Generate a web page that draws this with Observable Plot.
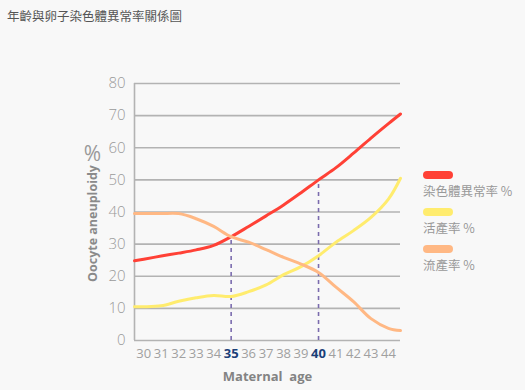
<!DOCTYPE html>
<html>
<head>
<meta charset="utf-8">
<script src="https://cdn.jsdelivr.net/npm/d3@7"></script>
<script src="https://cdn.jsdelivr.net/npm/@observablehq/plot@0.6"></script>
<style>
  html, body { margin: 0; padding: 0; background: #f8f8f8; }
  #wrap { position: relative; width: 525px; height: 390px; overflow: hidden; font-family: "Noto Sans CJK TC", "Open Sans", sans-serif; }
  #title { position: absolute; left: 7px; top: 6px; font-size: 12.5px; color: #555; font-family: "Noto Sans CJK TC", sans-serif; }
  #legend { position: absolute; left: 423px; top: 171px; font-family: "Noto Sans CJK TC", sans-serif; }
  .item { height: 37px; }
  .sw { width: 30px; height: 8px; border-radius: 4px; }
  .lab { font-size: 12.5px; color: #999; margin-top: 4px; line-height: 16px; white-space: nowrap; }
  #chart { position: absolute; left: 0; top: 0; }
</style>
</head>
<body>
<div id="wrap">
  <div id="chart"></div>
  <div id="title"></div>
  <div id="legend"></div>
</div>
<script>
const title = "年齡與卵子染色體異常率關係圖";
const ages = [29.47, 30, 31, 32, 33, 34, 35, 36, 37, 38, 39, 40, 41, 42, 43, 44, 44.69];
const aneuploidy = [24.8, 25.3, 26.3, 27.2, 28.2, 29.6, 32.3, 35.5, 38.8, 42.2, 46, 50, 53.8, 58.3, 63, 67.5, 70.5];
const liveBirth = [10.5, 10.5, 10.8, 12.2, 13.3, 14, 13.7, 15.2, 17.3, 20.5, 23, 26.4, 30.6, 34.2, 38.3, 44, 50.5];
const miscarriage = [39.5, 39.5, 39.5, 39.5, 37.9, 35.5, 32.3, 30.6, 28.3, 25.9, 23.8, 21.2, 16.6, 12.1, 6.8, 3.8, 3.1];
const seriesNames = ["染色體異常率 %", "活產率  %", "流產率 %"];
const seriesColors = ["#ff4136", "#ffec6e", "#ffb884"];
const xTicks = [30, 31, 32, 33, 34, 35, 36, 37, 38, 39, 40, 41, 42, 43, 44];
const markedAges = [35, 40];
const yTicks = [0, 10, 20, 30, 40, 50, 60, 70, 80];
const xLabel = "Maternal  age";
const yLabel = "Oocyte aneuploidy";
const yUnit = "%";

const rows = [];
[aneuploidy, liveBirth, miscarriage].forEach((vals, i) => {
  vals.forEach((v, j) => rows.push({age: ages[j], value: v, series: seriesNames[i]}));
});
const markRows = markedAges.map(a => ({age: a, value: aneuploidy[ages.indexOf(a)]}));

const chart = Plot.plot({
  width: 525,
  height: 390,
  marginLeft: 134,
  marginRight: 125,
  marginTop: 83,
  marginBottom: 50,
  style: {background: "transparent", fontFamily: "'Open Sans', sans-serif"},
  x: {domain: [ages[0], ages[ages.length - 1]]},
  y: {domain: [0, 80]},
  color: {domain: seriesNames, range: seriesColors},
  marks: [
    Plot.ruleY(yTicks.filter(d => d > 0), {stroke: "#b3b3b3", strokeWidth: 1.6}),
    Plot.ruleX([ages[0]], {stroke: "#b3b3b3", strokeWidth: 1.6}),
    Plot.ruleY([0], {stroke: "#b3b3b3", strokeWidth: 1.6}),
    Plot.ruleX(markRows, {x: "age", y1: 0, y2: "value", stroke: "#7b6cae", strokeWidth: 1.6, strokeDasharray: "4,4"}),
    Plot.line(rows, {x: "age", y: "value", z: "series", stroke: "series", strokeWidth: 3, curve: "catmull-rom"}),
    Plot.axisY(yTicks, {tickSize: 0, tickPadding: 9, fontSize: 15, fill: "#9a9a9a", label: null, fontWeight: 300}),
    Plot.axisX(xTicks.filter(d => !markedAges.includes(d)), {tickSize: 0, tickPadding: 8, fontSize: 13, fill: "#a0a0a0", label: null}),
    Plot.axisX(markedAges, {tickSize: 0, tickPadding: 8, fontSize: 13, fill: "#1b3f78", fontWeight: "bold", label: null}),
    Plot.text([xLabel], {frameAnchor: "bottom", dy: 36, lineAnchor: "middle", fontSize: 13, fontWeight: "bold", fill: "#838383"}),
    Plot.text([yLabel], {frameAnchor: "left", dx: -42, dy: 11.5, rotate: -90, textAnchor: "middle", lineAnchor: "middle", fontSize: 12.5, fontWeight: "bold", fill: "#8a8a8a"}),
    Plot.text([yUnit], {frameAnchor: "top-left", dx: -42, dy: 71, textAnchor: "middle", lineAnchor: "middle", fontSize: 21, fill: "#9a9a9a"})
  ]
});
document.getElementById("chart").appendChild(chart);
document.getElementById("title").textContent = title;
const legend = document.getElementById("legend");
seriesNames.forEach((n, i) => {
  const item = document.createElement("div");
  item.className = "item";
  item.innerHTML = `<div class="sw" style="background:${seriesColors[i]}"></div><div class="lab">${n}</div>`;
  legend.appendChild(item);
});
</script>
</body>
</html>
